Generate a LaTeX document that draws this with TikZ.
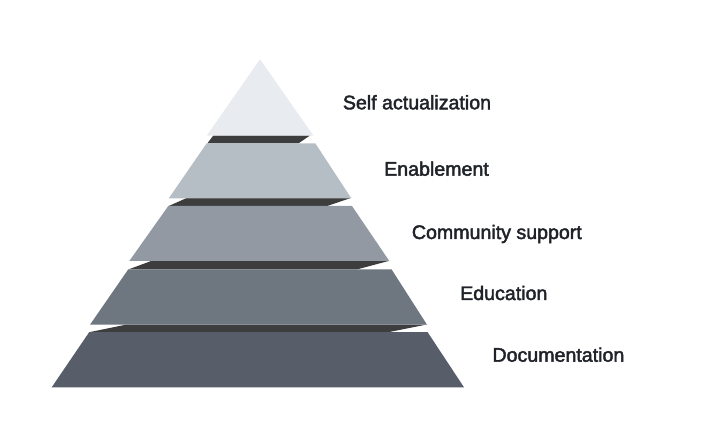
\documentclass[tikz,border=0pt]{standalone}
\usepackage{fontspec}
\usepackage{tikz}
\usetikzlibrary{positioning,calc}

\newfontfamily\lblfont{Liberation Sans}[FakeBold=2.2]

\definecolor{tierA}{HTML}{E8EBEF}
\definecolor{tierB}{HTML}{B6BEC5}
\definecolor{tierC}{HTML}{9299A3}
\definecolor{tierD}{HTML}{6E7780}
\definecolor{tierE}{HTML}{575E69}
\definecolor{bandgray}{HTML}{3D3D3D}
\definecolor{lbltext}{HTML}{1F2228}

\tikzset{
    band/.style={fill=bandgray},
    lbl/.style={anchor=base west,inner sep=0pt,text=lbltext,
        font=\lblfont\fontsize{19.6}{22}\selectfont}
}

\begin{document}
\begin{tikzpicture}[x=1pt,y=-1pt]
        \useasboundingbox (0,0) rectangle (720,446);

        %%%% Pyramid ====================================
        % Bands (drawn first, tiers overlap them)
        \fill[band] (207.3,143.5) -- (213.3,135.5) -- (310,135.5) -- (298.3,143.5) -- cycle;
        \fill[band] (168.3,206.2) -- (186.7,198) -- (350.7,198) -- (326.7,206.2) -- cycle;
        \fill[band] (128.3,269.5) -- (151.7,260.8) -- (389.3,260.8) -- (356.7,269.5) -- cycle;
        \fill[band] (89.3,332.2) -- (126.7,324.5) -- (427,324.5) -- (388.3,332.2) -- cycle;

        % Tiers
        \fill[tierA] (260,59.3) -- (313.5,135.7) -- (206.7,135.7) -- cycle;
        \fill[tierB] (206.7,143.3) -- (315.3,143.3) -- (351.3,198.3) -- (168.8,198.3) -- cycle;
        \fill[tierC] (168.3,206) -- (352,206) -- (389.3,261) -- (129.3,261) -- cycle;
        \fill[tierD] (128.3,269.3) -- (391.5,269.3) -- (427,324.7) -- (90,324.7) -- cycle;
        \fill[tierE] (89.3,332) -- (427.5,332) -- (464,387.3) -- (51.7,387.3) -- cycle;

        %%%% Labels =====================================
        \node[lbl] (self) at (342.7,109.3) {Self actualization};
        \node[lbl] (enable) at (384,175.7) {Enablement};
        \node[lbl] (community) at (411.7,239) {Community support};
        \node[lbl] (educ) at (460,300) {Education};
        \node[lbl] (docs) at (492.3,361.7) {Documentation};
    \end{tikzpicture}
\end{document}
